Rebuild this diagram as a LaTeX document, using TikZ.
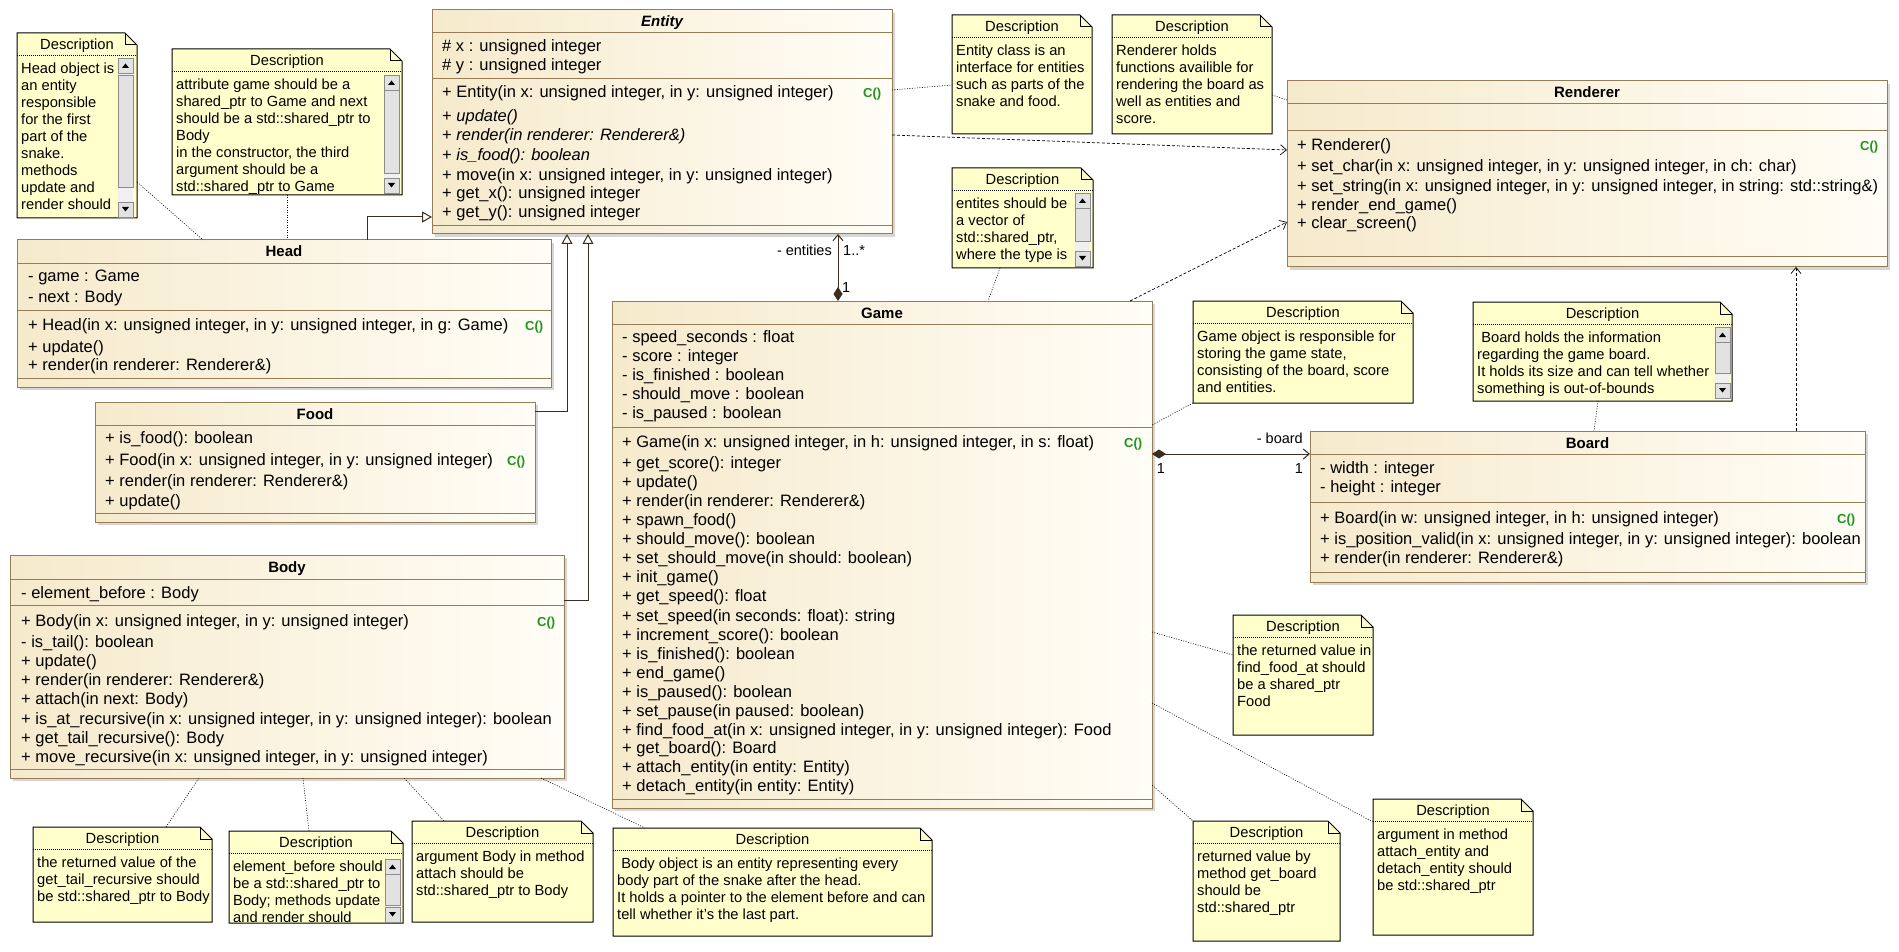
\documentclass[tikz,border=0pt]{standalone}
\usepackage{fontspec}
\setmainfont{Liberation Sans}
\usetikzlibrary{arrows.meta,calc}

\definecolor{clsborder}{RGB}{150,125,85}
\definecolor{clsleft}{RGB}{246,234,204}
\definecolor{clsright}{RGB}{255,253,246}
\definecolor{notefill}{RGB}{255,255,204}
\definecolor{ctorgreen}{RGB}{30,150,30}
\definecolor{linkcol}{RGB}{60,45,30}
\definecolor{sbtrack}{RGB}{240,240,240}
\definecolor{sbthumb}{RGB}{226,226,226}
\definecolor{sbedge}{RGB}{140,140,140}

% class box: shadow, shaded frame and bold title
\newcommand\umlclass[6]{%
  \fill[black!16] (#2+3,-#3-3) rectangle (#2+#4+3,-#3-#5-3);
  \node[classbox, minimum width=#4pt, minimum height=#5pt, anchor=north west] (#1) at (#2,-#3) {};
  \node[ctitle] (#1-title) at ([yshift=-17pt]#1.north) {#6};
}
% compartment separator, offset measured from the top of the class
\newcommand\csep[2]{\draw[clsborder, line width=1pt] ([yshift=-#2pt]#1.north west) -- ([yshift=-#2pt]#1.north east);}
% member lines: list of y/text pairs
\newcommand\members[3]{\foreach \my/\mt in {#3} {\node[member] (#1-m\my) at (#2,-\my-5) {\mt};}}
\newcommand\ctormark[3]{\node[ctor] (#1-ctor) at (#2,-#3-5) {C()};}
% note with folded corner, header and clipped body text
\newcommand\umlnote[6]{%
  \node[notebase, minimum width=#4pt, minimum height=#5pt, anchor=north west] (#1) at (#2,-#3) {};
  \draw[noteshape] (#1.north west) -- ([xshift=-12pt]#1.north east) -- ([yshift=-12pt]#1.north east) -- (#1.south east) -- (#1.south west) -- cycle;
  \draw[line width=1pt] ([xshift=-12pt]#1.north east) |- ([yshift=-12pt]#1.north east);
  \draw[sepdot] ([yshift=-22pt]#1.north west) -- ([yshift=-22pt]#1.north east);
  \node[notehead] (#1-head) at ([yshift=-16.5pt]#1.north) {Description};
  \begin{scope}
    \clip ([shift={(1pt,-1pt)}]#1.north west) rectangle ([shift={(-1pt,1pt)}]#1.south east);
    \foreach \nt [count=\ni from 0] in {#6} {\node[notetext] (#1-l\ni) at (#2+4,{-#3-40.5-17*\ni}) {\nt};}
  \end{scope}
}
% vertical scroll bar: x, top, bottom, thumb top, thumb bottom
\newcommand\scrollbar[5]{%
  \fill[sbtrack] (#1,-#2) rectangle (#1+15,-#3);
  \filldraw[fill=sbthumb, draw=sbedge, line width=0.8pt] (#1,-#4) rectangle (#1+15,-#5);
  \filldraw[fill=sbthumb, draw=sbedge, line width=0.8pt] (#1,-#2) rectangle (#1+15,-#2-15);
  \filldraw[fill=sbthumb, draw=sbedge, line width=0.8pt] (#1,-#3+15) rectangle (#1+15,-#3);
  \fill (#1+4,-#2-10) -- (#1+11,-#2-10) -- (#1+7.5,-#2-5.5) -- cycle;
  \fill (#1+4,-#3+10) -- (#1+11,-#3+10) -- (#1+7.5,-#3+5.5) -- cycle;
}

\begin{document}
\begin{tikzpicture}[x=1pt,y=1pt,
  classbox/.style={draw=clsborder, line width=1pt, left color=clsleft, right color=clsright, inner sep=0pt, outer sep=0pt, shape=rectangle},
  member/.style={anchor=base west, inner sep=0pt, font=\fontsize{16.5}{19}\selectfont},
  ctitle/.style={anchor=base, inner sep=0pt, font=\fontsize{15}{18}\selectfont\bfseries},
  ctor/.style={anchor=base west, inner sep=0pt, text=ctorgreen, font=\fontsize{13}{15}\selectfont\bfseries},
  notebase/.style={draw=none, fill=none, inner sep=0pt, outer sep=0pt, shape=rectangle},
  noteshape/.style={fill=notefill, draw=black, line width=1pt},
  notehead/.style={anchor=base, inner sep=0pt, font=\fontsize{14.7}{17}\selectfont},
  notetext/.style={anchor=base west, inner sep=0pt, font=\fontsize{14.7}{17}\selectfont},
  noteline/.style={draw=black, line width=0.6pt, dash pattern=on 1pt off 1.5pt},
  sepdot/.style={draw=black, line width=0.6pt, dash pattern=on 1pt off 1pt},
  depend/.style={draw=black, line width=0.7pt, dash pattern=on 3pt off 2pt, -{Straight Barb[length=6pt,width=10pt]}},
  general/.style={draw=linkcol, line width=1pt, -{Triangle[open,length=10pt,width=11pt,fill=white]}},
  compose/.style={draw=linkcol, line width=1pt, {Diamond[length=14pt,width=9pt,fill=linkcol]}-{Straight Barb[length=6pt,width=10pt]}},
  rolelabel/.style={inner sep=0pt, font=\fontsize{14.5}{17}\selectfont},
]
\useasboundingbox[fill=white] (0,0) rectangle (1899,-952);

% ---------- classes ----------
\umlclass{entity}{432}{10}{460}{224}{\itshape Entity}
\csep{entity}{23}\csep{entity}{69}\csep{entity}{216}
\members{entity}{442}{47/{\# x : unsigned integer}, 66/{\# y : unsigned integer},
  93/{+ Entity(in x: unsigned integer, in y: unsigned integer)},
  117/{+ \textit{update()}}, 136/{+ \textit{render(in renderer: Renderer\&)}},
  156/{+ \textit{is\_food(): boolean}},
  176/{+ move(in x: unsigned integer, in y: unsigned integer)},
  194/{+ get\_x(): unsigned integer}, 213/{+ get\_y(): unsigned integer}}
\ctormark{entity}{863}{93}

\umlclass{head}{17}{240}{534}{147}{Head}
\csep{head}{24}\csep{head}{70}\csep{head}{138}
\members{head}{28}{277/{- game : Game}, 297/{- next : Body},
  325/{+ Head(in x: unsigned integer, in y: unsigned integer, in g: Game)},
  347/{+ update()}, 365/{+ render(in renderer: Renderer\&)}}
\ctormark{head}{525}{325}

\umlclass{food}{95}{402}{440}{120}{Food}
\csep{food}{23}\csep{food}{111}
\members{food}{105}{438/{+ is\_food(): boolean},
  460/{+ Food(in x: unsigned integer, in y: unsigned integer)},
  481/{+ render(in renderer: Renderer\&)}, 501/{+ update()}}
\ctormark{food}{507}{460}

\umlclass{body}{10}{555}{554}{223}{Body}
\csep{body}{24}\csep{body}{50}\csep{body}{214}
\members{body}{21}{593/{- element\_before : Body},
  621/{+ Body(in x: unsigned integer, in y: unsigned integer)},
  642/{- is\_tail(): boolean}, 661/{+ update()},
  680/{+ render(in renderer: Renderer\&)}, 699/{+ attach(in next: Body)},
  719/{+ is\_at\_recursive(in x: unsigned integer, in y: unsigned integer): boolean},
  738/{+ get\_tail\_recursive(): Body},
  757/{+ move\_recursive(in x: unsigned integer, in y: unsigned integer)}}
\ctormark{body}{537}{621}

\umlclass{game}{612}{301}{540}{507}{Game}
\csep{game}{23}\csep{game}{126}\csep{game}{498}
\members{game}{622}{337/{- speed\_seconds : float}, 356/{- score : integer},
  375/{- is\_finished : boolean}, 394/{- should\_move : boolean}, 413/{- is\_paused : boolean},
  442/{+ Game(in x: unsigned integer, in h: unsigned integer, in s: float)},
  463/{+ get\_score(): integer}, 482/{+ update()}, 501/{+ render(in renderer: Renderer\&)},
  520/{+ spawn\_food()}, 539/{+ should\_move(): boolean},
  558/{+ set\_should\_move(in should: boolean)}, 577/{+ init\_game()},
  596/{+ get\_speed(): float}, 616/{+ set\_speed(in seconds: float): string},
  635/{+ increment\_score(): boolean}, 654/{+ is\_finished(): boolean},
  673/{+ end\_game()}, 692/{+ is\_paused(): boolean}, 711/{+ set\_pause(in paused: boolean)},
  730/{+ find\_food\_at(in x: unsigned integer, in y: unsigned integer): Food},
  748/{+ get\_board(): Board}, 767/{+ attach\_entity(in entity: Entity)},
  786/{+ detach\_entity(in entity: Entity)}}
\ctormark{game}{1124}{442}

\umlclass{renderer}{1287}{81}{600}{186}{Renderer}
\csep{renderer}{23}\csep{renderer}{50}\csep{renderer}{176}
\members{renderer}{1297}{146/{+ Renderer()},
  167/{+ set\_char(in x: unsigned integer, in y: unsigned integer, in ch: char)},
  187/{+ set\_string(in x: unsigned integer, in y: unsigned integer, in string: std::string\&)},
  206/{+ render\_end\_game()}, 224/{+ clear\_screen()}}
\ctormark{renderer}{1860}{146}

\umlclass{board}{1310}{431}{555}{151}{Board}
\csep{board}{23}\csep{board}{71}\csep{board}{141}
\members{board}{1320}{468/{- width : integer}, 487/{- height : integer},
  518/{+ Board(in w: unsigned integer, in h: unsigned integer)},
  539/{+ is\_position\_valid(in x: unsigned integer, in y: unsigned integer): boolean},
  558/{+ render(in renderer: Renderer\&)}}
\ctormark{board}{1837}{518}

% ---------- notes ----------
\umlnote{nHead}{17}{33}{120}{185}{Head object is, an entity, responsible, for the first, part of the, snake., methods, update and, render should}
\scrollbar{118}{58}{217}{75}{187}
\umlnote{nHeadAttr}{172}{49}{230}{146}{attribute game should be a, shared\_ptr to Game and next, should be a std::shared\_ptr to, Body, {in the constructor, the third}, argument should be a, std::shared\_ptr to Game}
\scrollbar{384}{75}{193}{90}{173}
\umlnote{nEntity}{952}{15}{140}{119}{Entity class is an, interface for entities, such as parts of the, snake and food.}
\umlnote{nRenderer}{1112}{15}{160}{119}{Renderer holds, functions availible for, rendering the board as, well as entities and, score.}
\umlnote{nEntities}{952}{168}{141}{100}{entites should be, a vector of, {std::shared\_ptr,}, where the type is}
\scrollbar{1075}{193}{266}{208}{241}
\umlnote{nGame}{1193}{301}{220}{102}{Game object is responsible for, {storing the game state,}, {consisting of the board, score}, and entities.}
\umlnote{nBoard}{1473}{302}{259}{99}{\ Board holds the information, regarding the game board., It holds its size and can tell whether, something is out-of-bounds}
\scrollbar{1715}{327}{398}{342}{373}
\umlnote{nFindFood}{1233}{615}{140}{120}{the returned value in, find\_food\_at should, be a shared\_ptr, Food}
\umlnote{nGetBoard}{1193}{821}{147}{120}{returned value by, method get\_board, should be, std::shared\_ptr}
\umlnote{nAttachEnt}{1373}{799}{160}{136}{argument in method, attach\_entity and, detach\_entity should, be std::shared\_ptr}
\umlnote{nTail}{33}{827}{179}{95}{the returned value of the, get\_tail\_recursive should, be std::shared\_ptr to Body}
\umlnote{nElem}{229}{831}{174}{92}{element\_before should, be a std::shared\_ptr to, Body; methods update, and render should}
\scrollbar{385}{859}{922}{874}{905}
\umlnote{nAttachBody}{412}{821}{181}{101}{argument Body in method, attach should be, std::shared\_ptr to Body}
\umlnote{nBodyDesc}{613}{828}{319}{108}{\ Body object is an entity representing every, body part of the snake after the head., It holds a pointer to the element before and can, tell whether it's the last part.}

% ---------- generalizations ----------
\draw[general] ([xshift=350pt]head.north west) |- ([yshift=-207pt]entity.north west);
\draw[general] ([yshift=-9pt]food.north east) -| ([xshift=135pt]entity.south west);
\draw[general] ([yshift=-45pt]body.north east) -| ([xshift=156pt]entity.south west);

% ---------- associations ----------
\coordinate (gameTop) at ([xshift=226pt]game.north west);
\draw[compose] (gameTop) -- (gameTop |- entity.south);
\node[rolelabel, anchor=base east] (lblEntities) at (832,-256) {- entities};
\node[rolelabel, anchor=base west] (lblEntitiesMult) at (843,-256) {1..*};
\node[rolelabel, anchor=base west] (lblGameMult) at (842,-292) {1};

\draw[compose] ([yshift=-153pt]game.north east) -- ([yshift=-23pt]board.north west);
\node[rolelabel, anchor=base east] (lblBoard) at (1303,-443) {- board};
\node[rolelabel, anchor=base] (lblBoardOwner) at (1161,-473) {1};
\node[rolelabel, anchor=base] (lblBoardMult) at (1299,-473) {1};

% ---------- dependencies ----------
\draw[depend] ([yshift=-13pt]entity.east) -- ([yshift=24pt]renderer.west);
\draw[depend] ([xshift=-22pt]game.north east) -- ([yshift=-48pt]renderer.west);
\coordinate (boardTop) at ([xshift=-69pt]board.north east);
\draw[depend] (boardTop) -- (boardTop |- renderer.south);

% ---------- note anchors ----------
\draw[noteline] ([yshift=36pt]nHead.south east) -- ([xshift=186pt]head.north west);
\draw[noteline] (nHeadAttr.south) -- (nHeadAttr.south |- head.north);
\draw[noteline] ([yshift=32pt]entity.east) -- ([yshift=-10.5pt]nEntity.west);
\draw[noteline] ([yshift=-20.5pt]nRenderer.east) -- ([yshift=-19pt]renderer.north west);
\draw[noteline] ([xshift=-22.5pt]nEntities.south) -- ([xshift=376pt]game.north west);
\draw[noteline] (nGame.south west) -- ([yshift=-124pt]game.north east);
\draw[noteline] ([xshift=-4.5pt]nBoard.south) -- ([xshift=6.5pt]board.north);
\draw[noteline] ([yshift=-331pt]game.north east) -- ([yshift=-40pt]nFindFood.north west);
\draw[noteline] ([yshift=-402pt]game.north east) -- ([yshift=-23pt]nAttachEnt.north west);
\draw[noteline] ([yshift=-484pt]game.north east) -- (nGetBoard.north west);
\draw[noteline] ([xshift=133pt]nTail.north west) -- ([xshift=189pt]body.south west);
\draw[noteline] ([xshift=80pt]nElem.north west) -- ([xshift=293pt]body.south west);
\draw[noteline] ([xshift=32pt]nAttachBody.north west) -- ([xshift=394pt]body.south west);
\draw[noteline] ([xshift=531pt]body.south west) -- ([xshift=32pt]nBodyDesc.north west);
\end{tikzpicture}
\end{document}
